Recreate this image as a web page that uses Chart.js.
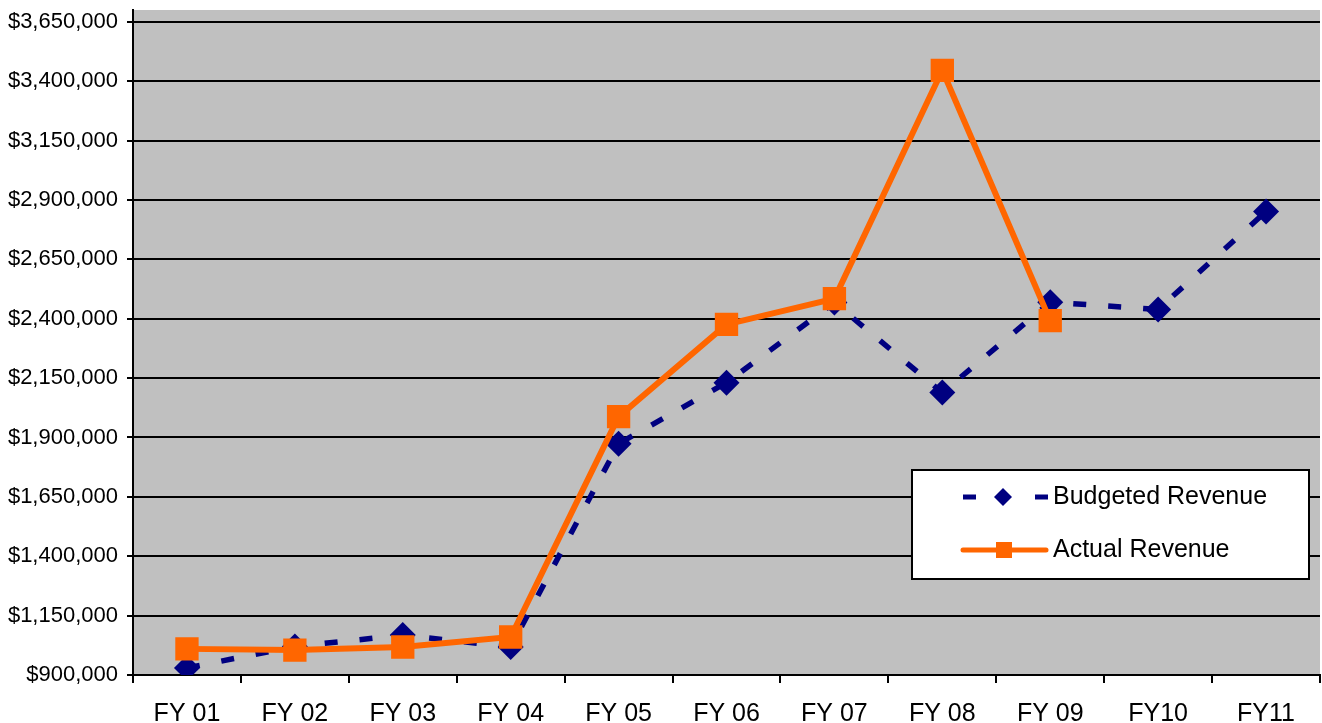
<!DOCTYPE html>
<html>
<head>
<meta charset="utf-8">
<script src="https://cdn.jsdelivr.net/npm/chart.js@4/dist/chart.umd.min.js"></script>
<style>
  html, body { margin: 0; padding: 0; background: #fff; }
  #wrap { width: 1322px; height: 723px; position: relative; }
</style>
</head>
<body>
<div id="wrap"><canvas id="revChart"></canvas></div>
<script>
// categories and values
const years = ['FY 01', 'FY 02', 'FY 03', 'FY 04', 'FY 05', 'FY 06', 'FY 07', 'FY 08', 'FY 09', 'FY10', 'FY11'];
const budgetedRevenue = [930000, 1020000, 1068000, 1018000, 1874000, 2131000, 2468000, 2089000, 2470000, 2439000, 2852000];
const actualRevenue = [1010000, 1005000, 1018000, 1060000, 1988000, 2376000, 2485000, 3446000, 2392000, null, null];
const yTicks = [900000, 1150000, 1400000, 1650000, 1900000, 2150000, 2400000, 2650000, 2900000, 3150000, 3400000, 3650000];
const yMin = 900000;
const yMax = 3700000;

const NAVY = '#000080';
const ORANGE = '#FF6600';
const FONT = 'Liberation Sans, Arial, sans-serif';

const fmtMoney = v => '$' + new Intl.NumberFormat('en-US').format(v);

// grey plot area
const plotBg = {
  id: 'plotBg',
  beforeDraw(chart) {
    const { ctx, chartArea: a } = chart;
    ctx.save();
    ctx.fillStyle = '#C0C0C0';
    ctx.fillRect(a.left, a.top, a.right - a.left, a.bottom - a.top);
    ctx.restore();
  }
};

// legend box drawn inside the plot like the original
const boxLegend = {
  id: 'boxLegend',
  afterDraw(chart) {
    const ctx = chart.ctx;
    const x = 912, y = 470, w = 397, h = 109;
    ctx.save();
    ctx.fillStyle = '#fff';
    ctx.fillRect(x, y, w, h);
    ctx.strokeStyle = '#000';
    ctx.lineWidth = 2;
    ctx.strokeRect(x, y, w, h);

    // budgeted sample
    const y1 = y + 27;
    ctx.strokeStyle = NAVY;
    ctx.lineWidth = 5;
    ctx.setLineDash([13, 59]);
    ctx.beginPath();
    ctx.moveTo(963, y1);
    ctx.lineTo(1050, y1);
    ctx.stroke();
    ctx.setLineDash([]);
    ctx.fillStyle = NAVY;
    ctx.beginPath();
    ctx.moveTo(1003, y1 - 9);
    ctx.lineTo(1012, y1);
    ctx.lineTo(1003, y1 + 9);
    ctx.lineTo(994, y1);
    ctx.closePath();
    ctx.fill();

    // actual sample
    const y2 = y + 80;
    ctx.strokeStyle = ORANGE;
    ctx.lineWidth = 5;
    ctx.lineCap = 'round';
    ctx.beginPath();
    ctx.moveTo(963, y2);
    ctx.lineTo(1046, y2);
    ctx.stroke();
    ctx.fillStyle = ORANGE;
    ctx.fillRect(996, y2 - 8, 16, 16);

    ctx.fillStyle = '#000';
    ctx.font = '25px ' + FONT;
    ctx.textBaseline = 'middle';
    ctx.fillText('Budgeted Revenue', 1053, y1);
    ctx.fillText('Actual Revenue', 1053, y2);
    ctx.restore();
  }
};

new Chart(document.getElementById('revChart'), {
  type: 'line',
  data: {
    labels: years,
    datasets: [
      {
        label: 'Budgeted Revenue',
        data: budgetedRevenue,
        borderColor: NAVY,
        backgroundColor: NAVY,
        borderWidth: 5.5,
        borderDash: [13, 22],
        pointStyle: 'rectRot',
        pointRadius: 13,
        pointBorderWidth: 0,
        tension: 0,
        order: 1
      },
      {
        label: 'Actual Revenue',
        data: actualRevenue,
        borderColor: ORANGE,
        backgroundColor: ORANGE,
        borderWidth: 6,
        pointStyle: 'rect',
        pointRadius: 16.5,
        pointBorderWidth: 0,
        tension: 0,
        spanGaps: false,
        order: 0
      }
    ]
  },
  options: {
    responsive: true,
    maintainAspectRatio: false,
    animation: false,
    layout: { autoPadding: false, padding: { top: 10, right: 2, left: 0, bottom: 0 } },
    plugins: {
      legend: { display: false },
      tooltip: { enabled: false }
    },
    scales: {
      x: {
        offset: true,
        grid: {
          offset: true,
          drawOnChartArea: false,
          color: '#000',
          lineWidth: 2,
          tickLength: 8
        },
        border: { color: '#000', width: 2 },
        ticks: { color: '#000', font: { family: FONT, size: 25 }, padding: 16, maxRotation: 0, autoSkip: false },
        afterFit(scale) {
          scale.height = 48;
          scale.paddingLeft = 0;
          scale.paddingRight = 0;
        }
      },
      y: {
        min: yMin,
        max: yMax,
        afterBuildTicks(scale) {
          scale.ticks = yTicks.map(v => ({ value: v }));
        },
        ticks: {
          color: '#000',
          font: { family: FONT, size: 22 },
          padding: 9,
          autoSkip: false,
          callback: v => fmtMoney(v)
        },
        grid: { color: '#000', lineWidth: 2, tickLength: 6 },
        border: { color: '#000', width: 2 },
        afterFit(scale) {
          scale.width = 133;
          scale.paddingTop = 0;
          scale.paddingBottom = 0;
        }
      }
    }
  },
  plugins: [plotBg, boxLegend]
});
</script>
</body>
</html>
